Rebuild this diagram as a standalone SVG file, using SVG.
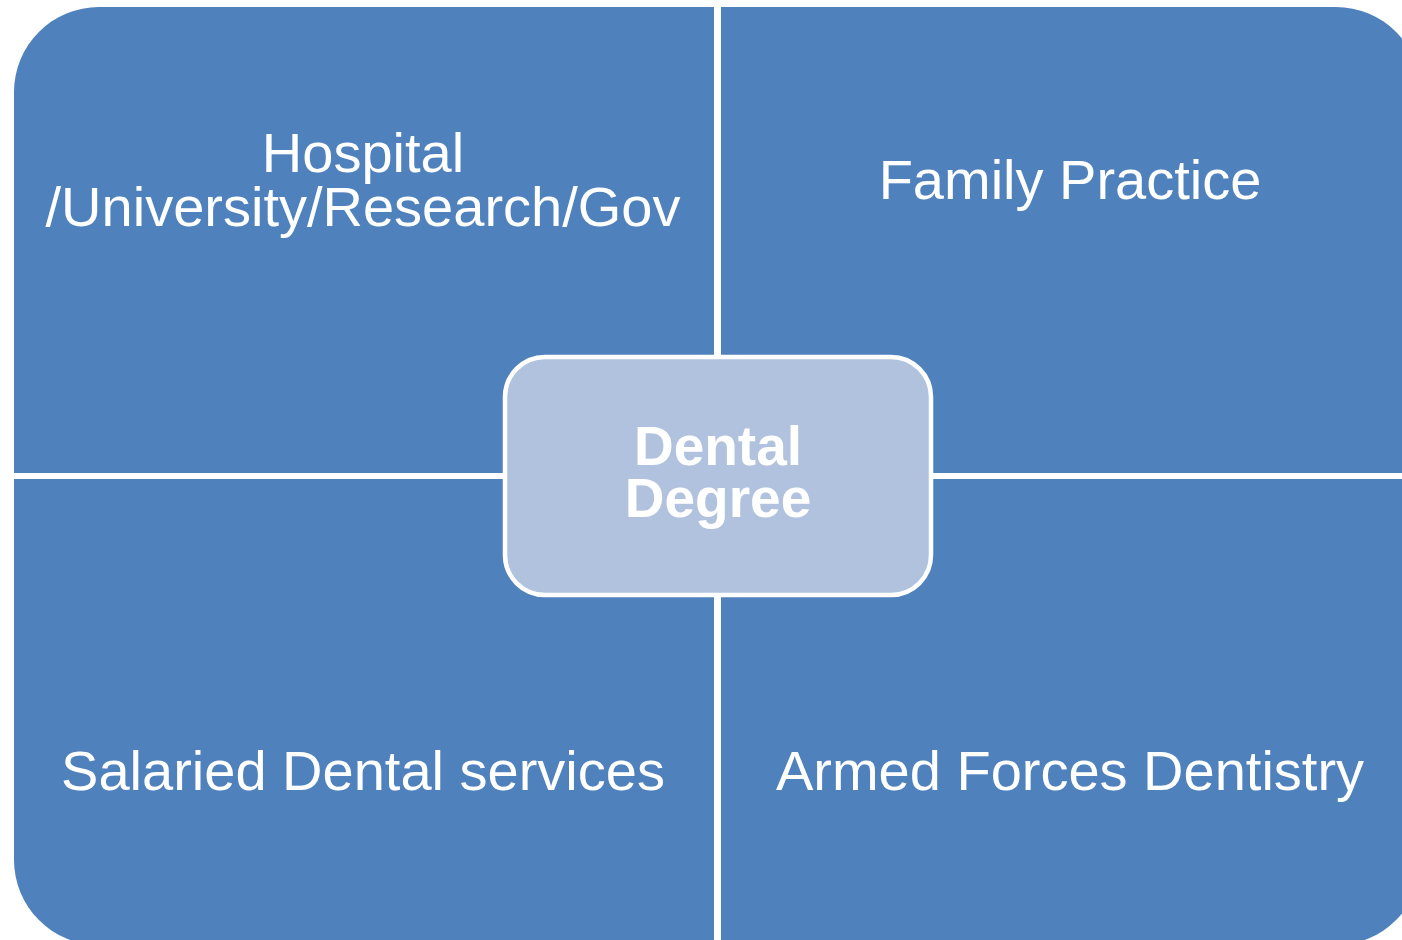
<svg xmlns="http://www.w3.org/2000/svg" width="1402" height="940" viewBox="0 0 1402 940">
<style>
.q{fill:#4F81BD;}
.lbl{fill:#FFFFFF;font-family:"Liberation Sans",Arial,sans-serif;font-size:56px;text-anchor:middle;}
.ctr{fill:#B1C2DE;stroke:#FFFFFF;stroke-width:4.5;}
.clbl{fill:#FFFFFF;font-family:"Liberation Sans",Arial,sans-serif;font-size:55px;font-weight:bold;text-anchor:middle;}
</style>
<rect x="0" y="0" width="1402" height="940" fill="#FFFFFF"/>
<g id="node-hospital">
<path class="q" d="M14,92 A85,85 0 0 1 99,7 L714,7 L714,473 L14,473 Z"/>
<text class="lbl" x="363" y="172">Hospital</text>
<text class="lbl" x="363" y="226">/University/Research/Gov</text>
</g>
<g id="node-family">
<path class="q" d="M721,7 L1336,7 A85,85 0 0 1 1421,92 L1421,473 L721,473 Z"/>
<text class="lbl" x="1070" y="199">Family Practice</text>
</g>
<g id="node-salaried">
<path class="q" d="M14,479 L714,479 L714,945 L99,945 A85,85 0 0 1 14,860 Z"/>
<text class="lbl" x="363" y="790">Salaried Dental services</text>
</g>
<g id="node-armed">
<path class="q" d="M721,479 L1421,479 L1421,860 A85,85 0 0 1 1336,945 L721,945 Z"/>
<text class="lbl" x="1070" y="790">Armed Forces Dentistry</text>
</g>
<g id="connectors"></g>
<g id="node-center">
<rect class="ctr" x="505" y="357" width="426" height="238" rx="40" ry="40"/>
<text class="clbl" x="718" y="465">Dental</text>
<text class="clbl" x="718" y="517">Degree</text>
</g>
</svg>
